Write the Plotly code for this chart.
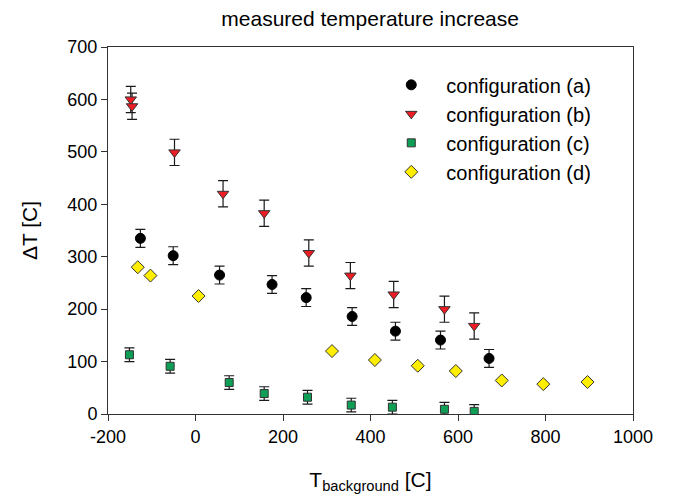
import plotly.graph_objects as go

# configuration (a)
a_x = [-126, -51, 55, 175, 253, 358, 457, 560, 671]
a_y = [335, 302, 265, 247, 222, 186, 158, 141, 106]
a_err = [17, 17, 17, 17, 17, 17, 17, 17, 17]

# configuration (b)
b_x = [-148, -145, -48, 63, 157, 259, 354, 453, 569, 637]
b_y = [600, 587, 499, 420, 383, 307, 264, 228, 200, 168]
b_err = [25, 25, 25, 25, 25, 25, 25, 25, 25, 25]

# configuration (c)
c_x = [-151, -58, 77, 157, 256, 356, 450, 569, 637]
c_y = [113, 91, 60, 39, 32, 17, 13, 9, 5]
c_err = [13, 13, 13, 13, 13, 13, 13, 13, 13]

# configuration (d)
d_x = [-132, -103, 7, 312, 410, 508, 595, 700, 795, 896]
d_y = [280, 264, 225, 120, 103, 92, 82, 64, 57, 61]

# ticks
x_ticks = [-200, 0, 200, 400, 600, 800, 1000]
x_ticktext = ["-200", "0", "200", "400", "600", "800", "1000"]
y_ticks = [0, 100, 200, 300, 400, 500, 600, 700]

FONT = "Liberation Sans, Arial, sans-serif"
err_style = dict(type="data", visible=True, color="#1a1a1a", thickness=1.2, width=5)

fig = go.Figure()
fig.add_trace(go.Scatter(
    x=a_x, y=a_y, mode="markers", name="configuration (a)",
    error_y=dict(array=a_err, **err_style),
    marker=dict(symbol="circle", size=10, color="black", line=dict(color="black", width=1)),
))
fig.add_trace(go.Scatter(
    x=b_x, y=b_y, mode="markers", name="configuration (b)",
    error_y=dict(array=b_err, **err_style),
    marker=dict(symbol="triangle-down", size=10, color="#ee1c24", line=dict(color="#333", width=1)),
))
fig.add_trace(go.Scatter(
    x=c_x, y=c_y, mode="markers", name="configuration (c)",
    error_y=dict(array=c_err, **err_style),
    marker=dict(symbol="square", size=8, color="#0f9e55", line=dict(color="#333", width=1)),
))
fig.add_trace(go.Scatter(
    x=d_x, y=d_y, mode="markers", name="configuration (d)",
    marker=dict(symbol="diamond", size=10, color="#ffee00", line=dict(color="#333", width=1)),
))

axis_common = dict(
    showgrid=False, zeroline=False, showline=True, linecolor="#333", linewidth=1,
    mirror=True, ticks="outside", ticklen=6, tickcolor="#333", tickwidth=1,
    tickfont=dict(family=FONT, size=18, color="black"),
)

fig.update_layout(
    width=673, height=499,
    margin=dict(l=108, r=40, t=47, b=85),
    paper_bgcolor="white", plot_bgcolor="white",
    title=dict(text="measured temperature increase", x=0.55, xanchor="center",
               y=0.962, yanchor="middle",
               font=dict(family=FONT, size=21, color="black")),
    xaxis=dict(range=[-200, 1000], tickvals=x_ticks, ticktext=x_ticktext,
               title=dict(text="T<sub>background</sub> [C]", standoff=26,
                          font=dict(family=FONT, size=21, color="black")),
               **axis_common),
    yaxis=dict(range=[0, 700], tickvals=y_ticks,
               title=dict(text="ΔT [C]", standoff=24,
                          font=dict(family=FONT, size=21, color="black")),
               **axis_common),
    legend=dict(x=0.511, y=0.95, xanchor="left", yanchor="top",
                bgcolor="rgba(0,0,0,0)", borderwidth=0,
                font=dict(family=FONT, size=20, color="black"),
                itemwidth=60, tracegroupgap=0),
    showlegend=True,
)

fig.write_html("out.html")
